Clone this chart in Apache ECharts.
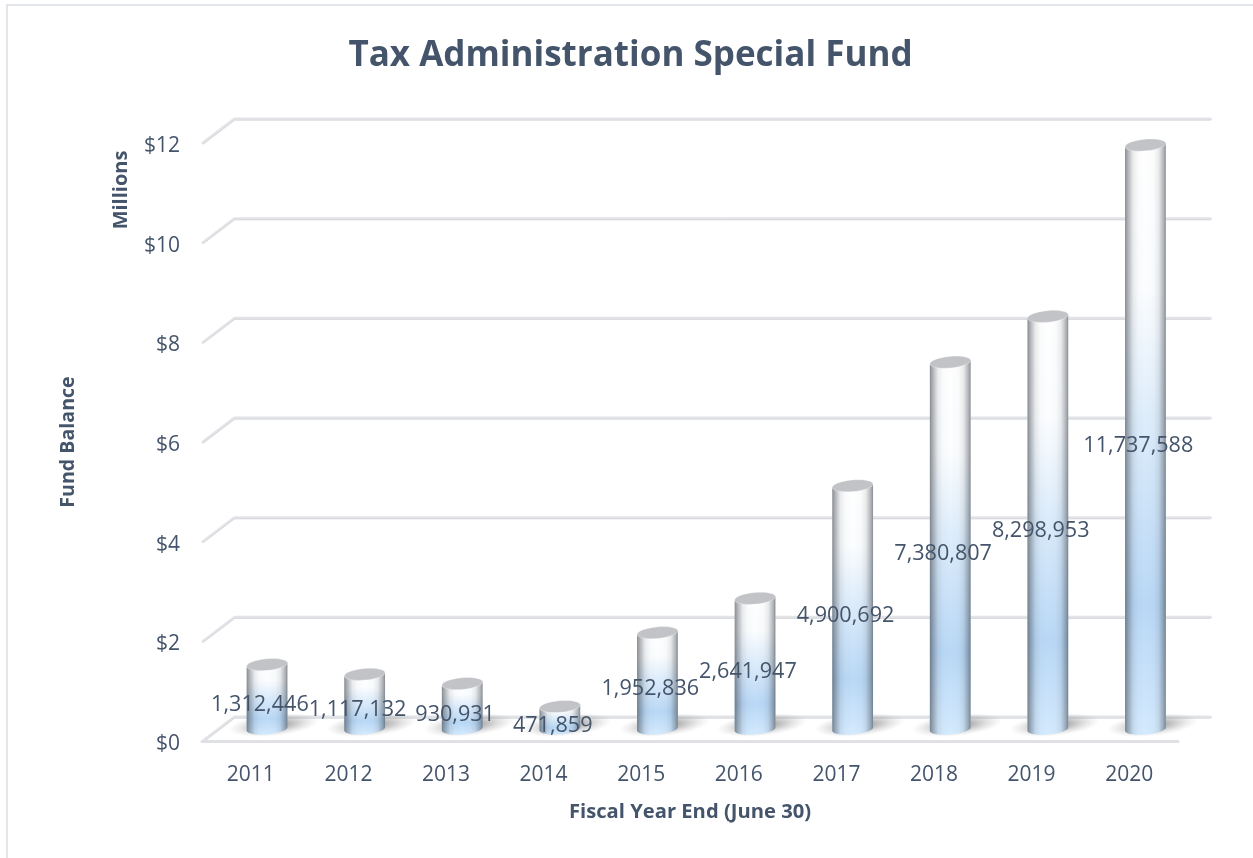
<!DOCTYPE html>
<html><head><meta charset="utf-8">
<style>html,body{margin:0;padding:0;background:#fff}#c{width:1253px;height:858px}</style>
<script src="https://cdn.jsdelivr.net/npm/echarts@6/dist/echarts.min.js"></script>
</head><body><div id="c"></div>
<script>
const years = ['2011','2012','2013','2014','2015','2016','2017','2018','2019','2020'];
const balances = [1312446,1117132,930931,471859,1952836,2641947,4900692,7380807,8298953,11737588];
const yTicks = [0,2,4,6,8,10,12];
const titleText = 'Tax Administration Special Fund';
const xName = 'Fiscal Year End (June 30)';
const yName = 'Fund Balance';
const unitName = 'Millions';

const INK = '#44546a', FONT = '"Open Sans", sans-serif';
const DX = 32.5, DY = -24;
const chart = echarts.init(document.getElementById('c'), null, {renderer:'canvas'});
const grad = (x,y,x2,y2,stops) => ({type:'linear',x,y,x2,y2,global:false,
  colorStops:stops.map(s=>({offset:s[0],color:s[1]}))});

function wallItem(params, api){
  const v = api.value(1), y = api.coord([years[0], v])[1];
  const cs = params.coordSys, x0 = cs.x, x1 = cs.x + cs.width;
  const edge = {stroke:'#e2e4e8', lineWidth:3, lineCap:'round', lineJoin:'round', fill:null};
  return {type:'group', children:[
    {type:'polyline', shape:{points:[[x0+1,y],[x0+DX,y+DY],[x1+DX,y+DY]]}, style:edge},
    {type:'polyline', shape:{points:[[x0+1,y+1],[x0+DX,y+DY+1],[x1+DX,y+DY+1]]}, style:{stroke:'#d8dade',lineWidth:1,fill:null}}
  ]};
}
function barItem(params, api){
  const base = api.coord([api.value(0), 0]), top = api.coord([api.value(0), api.value(1)/1e6]);
  const cx = base[0]+DX/2, by = base[1]+DY/2-2, ty = top[1]+DY/2+1;
  const bw = api.size([1,0])[0]*0.42, rx = bw/2, ry = 5.5, tilt = 2;
  const lx = cx-rx, rxx = cx+rx;
  const body = `M${lx} ${ty+tilt} L${lx} ${by+tilt} A${rx} ${ry} -5 0 0 ${rxx} ${by-tilt} L${rxx} ${ty-tilt} Z`;
  const bodyRect = {x:lx, y:ty-tilt, width:bw, height:by-ty+2*tilt+ry};
  const tint = grad(0,0,0,1,[[0,'#ffffff'],[0.25,'#fbfdff'],[0.48,'#dcecfb'],[0.78,'#b9d8f6'],[1,'#d4eafe']]);
  const edges = grad(0,0,1,0,[[0,'rgba(55,62,70,0.6)'],[0.07,'rgba(55,62,70,0.4)'],[0.2,'rgba(55,62,70,0.1)'],[0.32,'rgba(55,62,70,0.02)'],[0.5,'rgba(55,62,70,0)'],[0.7,'rgba(55,62,70,0.02)'],[0.82,'rgba(55,62,70,0.1)'],[0.94,'rgba(55,62,70,0.38)'],[1,'rgba(55,62,70,0.6)']]);
  const sr = 13, sx = cx+7, sy = by-2;
  return {type:'group', children:[
    {type:'circle', shape:{cx:sx, cy:sy, r:sr}, scaleX:3.5, scaleY:0.85, rotation:0.1, originX:sx, originY:sy,
     style:{fill:{type:'radial',x:0.5,y:0.5,r:0.5,global:false,colorStops:[
       {offset:0,color:'rgba(60,60,60,0.62)'},{offset:0.5,color:'rgba(90,90,90,0.3)'},{offset:1,color:'rgba(150,150,150,0)'}]}}},
    {type:'path', shape:{pathData:body, ...bodyRect, layout:'cover'}, style:{fill:tint}},
    {type:'path', shape:{pathData:body, ...bodyRect, layout:'cover'}, style:{fill:edges}},
    {type:'ellipse', shape:{cx, cy:ty, rx, ry:5.8}, rotation:0.09, originX:cx, originY:ty,
     style:{fill:'#c1c3c7', stroke:'rgba(255,255,255,0.5)', lineWidth:0.6}}
  ]};
}
function labelItem(params, api){
  const v = api.value(1);
  const base = api.coord([api.value(0), 0]), top = api.coord([api.value(0), v/1e6]);
  return {type:'text', x:base[0]+DX/4+1, y:(base[1]+top[1])/2+DY/4+3,
    style:{text:v.toLocaleString('en-US'), fill:INK, font:'21.6px '+FONT, textAlign:'center', textVerticalAlign:'middle'}};
}
const barRows = years.map((y,i)=>[y,balances[i]]);
chart.setOption({
  animation:false,
  backgroundColor:'#fff',
  title:{text:titleText, left:625.5, top:34, textAlign:'center',
    textStyle:{color:INK, fontFamily:FONT, fontWeight:'bold', fontSize:35}},
  graphic:[
    {type:'rect', silent:true, z:-10, shape:{x:7,y:5,width:1400,height:1000}, style:{fill:'none',stroke:'#e2e5ea',lineWidth:2}},
    {type:'text', x:121, y:190, rotation:Math.PI/2, z:5,
     style:{text:unitName, fill:INK, font:'bold 20px '+FONT, textAlign:'center', textVerticalAlign:'middle'}}
  ],
  grid:{left:202, right:75, top:143, bottom:117, containLabel:false},
  xAxis:{type:'category', data:years, axisTick:{show:false},
    axisLine:{lineStyle:{color:'#dfe1e5',width:3}},
    axisLabel:{color:INK, fontFamily:FONT, fontSize:21, margin:24},
    name:xName, nameLocation:'middle', nameGap:61,
    nameTextStyle:{color:INK, fontFamily:FONT, fontWeight:'bold', fontSize:20.2}},
  yAxis:{type:'value', min:0, max:12, interval:2, axisLine:{show:false}, axisTick:{show:false}, splitLine:{show:false},
    axisLabel:{color:INK, fontFamily:FONT, fontSize:21, margin:22, verticalAlign:'top', lineHeight:6, formatter:'${value}'},
    name:yName, nameLocation:'middle', nameGap:124,
    nameTextStyle:{color:INK, fontFamily:FONT, fontWeight:'bold', fontSize:19.6}},
  series:[
    {type:'custom', name:'walls', z:1, silent:true, clip:false, renderItem:wallItem, encode:{x:0,y:1},
     data:yTicks.map(v=>[years[0],v])},
    {type:'custom', name:'Fund Balance', z:2, clip:false, renderItem:barItem, encode:{x:0},
     data:barRows},
    {type:'custom', name:'labels', z:6, silent:true, clip:false, renderItem:labelItem, encode:{x:0},
     data:barRows}
  ]
});
</script></body></html>
